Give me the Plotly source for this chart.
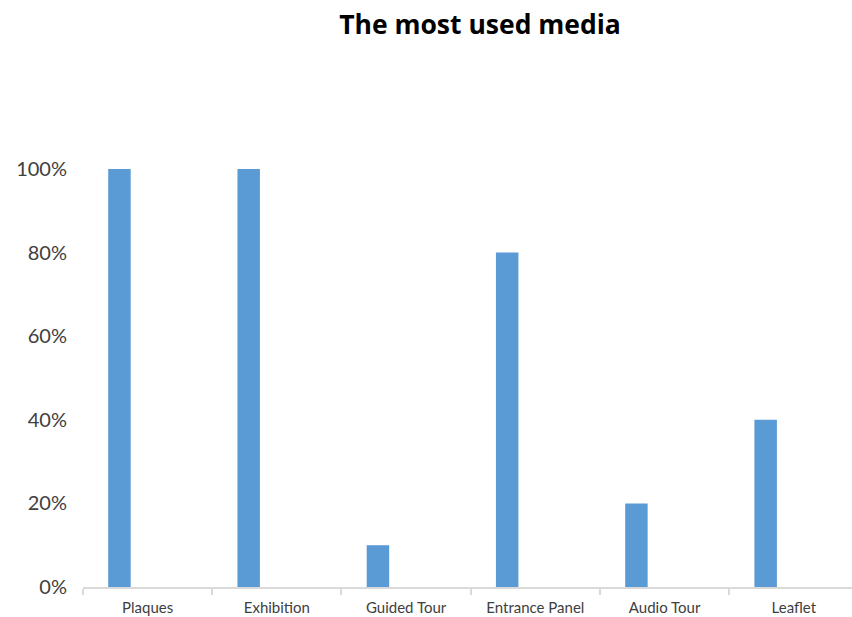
import plotly.graph_objects as go

# Share of respondents using each medium
categories = ["Plaques", "Exhibition", "Guided Tour", "Entrance Panel", "Audio Tour", "Leaflet"]
usage = [1.0, 1.0, 0.1, 0.8, 0.2, 0.4]

y_ticks = [0, 0.2, 0.4, 0.6, 0.8, 1.0]
y_tick_labels = ["0%", "20%", "40%", "60%", "80%", "100%"]

BAR_BLUE = "#5B9BD5"
AXIS_GREY = "#D9D9D9"
TEXT_GREY = "#404040"
FONT = "Lato, 'Open Sans', sans-serif"

fig = go.Figure(
    go.Bar(
        x=categories,
        y=usage,
        marker=dict(color=BAR_BLUE, line=dict(width=0)),
        width=0.174,
        offset=-0.305,
        hoverinfo="x+y",
    )
)

fig.update_layout(
    width=852,
    height=617,
    margin=dict(l=83, r=0, t=169, b=30),
    paper_bgcolor="white",
    plot_bgcolor="white",
    showlegend=False,
    font=dict(family=FONT, color=TEXT_GREY),
    title=dict(
        text="<b>The most used media</b>",
        x=480 / 852,
        xanchor="center",
        y=1 - 25 / 617,
        yanchor="middle",
        font=dict(family="'Open Sans', sans-serif", size=26.5, color="#000000"),
    ),
)

fig.update_xaxes(
    type="category",
    range=[-0.5, 5.45],
    showline=True,
    linecolor=AXIS_GREY,
    linewidth=1.5,
    showgrid=False,
    ticks="outside",
    tickson="boundaries",
    ticklen=6,
    tickcolor=AXIS_GREY,
    tickwidth=1.5,
    ticklabelstandoff=6,
    tickfont=dict(size=15, color=TEXT_GREY),
    fixedrange=True,
)

fig.update_yaxes(
    range=[0, 1],
    tickvals=y_ticks,
    ticktext=y_tick_labels,
    showgrid=False,
    zeroline=False,
    showline=False,
    ticks="",
    ticklabelstandoff=15,
    tickfont=dict(size=20, color=TEXT_GREY),
    fixedrange=True,
)

fig.write_html("out.html")
